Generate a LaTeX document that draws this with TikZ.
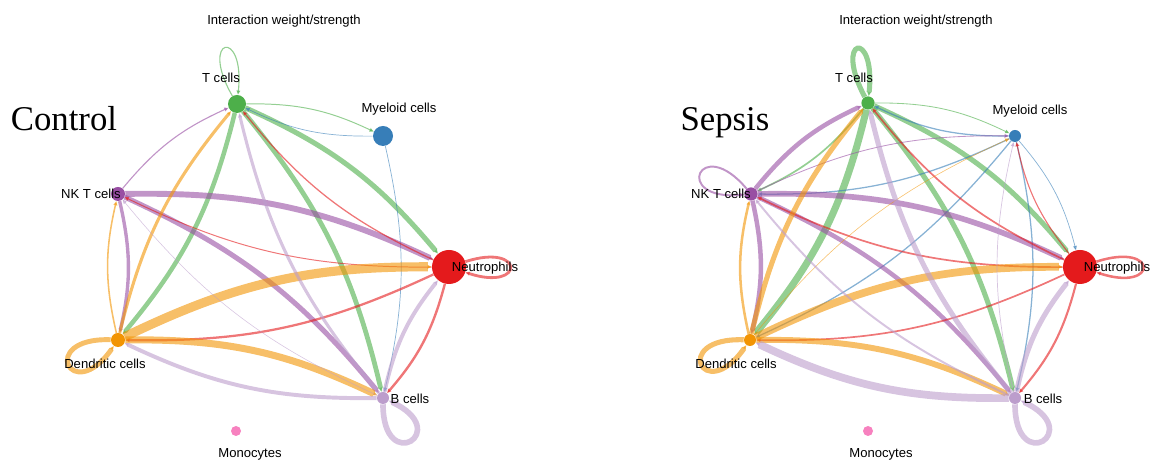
\documentclass[tikz,border=0pt]{standalone}
\usepackage{fontspec}
\setmainfont{Liberation Serif}
\setsansfont{Liberation Sans}
\usetikzlibrary{arrows.meta, backgrounds}

\definecolor{tgreen}{HTML}{4DAF4A}
\definecolor{myblue}{HTML}{377EB8}
\definecolor{nkpurple}{HTML}{984EA3}
\definecolor{nered}{HTML}{E41A1C}
\definecolor{dcorange}{HTML}{F29403}
\definecolor{blav}{HTML}{BC9DCC}
\definecolor{mopink}{HTML}{F781BF}

\begin{document}
\begin{tikzpicture}[
    x=0.025cm, y=0.025cm,
    cell/.style={circle, inner sep=0pt, fill=#1},
    lab/.style={font=\sffamily\fontsize{9.3}{11}\selectfont, inner sep=0pt, anchor=base},
    heading/.style={font=\sffamily\fontsize{9.3}{11}\selectfont, inner sep=0pt, anchor=base},
    panel/.style={font=\fontsize{24.7}{28}\selectfont, inner sep=0pt, anchor=base},
    link/.style={opacity=0.6, bend left=13, -{Triangle[length=3pt,width=2.6pt]}},
    selfloop/.style={opacity=0.6, -{Triangle[length=3pt,width=2.6pt]}}
]
\useasboundingbox (0,0) rectangle (1152,464);

% Control cells
\node[cell=tgreen, minimum size=0.45cm] (t1) at (237,360) {};
\node[cell=myblue, minimum size=0.5cm] (my1) at (383,328) {};
\node[cell=nkpurple, minimum size=0.35cm] (nk1) at (118,270) {};
\node[cell=nered, minimum size=0.85cm] (ne1) at (449,197) {};
\node[cell=dcorange, minimum size=0.35cm] (dc1) at (118,124) {};
\node[cell=blav, minimum size=0.3cm] (b1) at (383,66) {};
\node[cell=mopink, minimum size=0.25cm] (mo1) at (236,33) {};

% Sepsis cells
\node[cell=tgreen, minimum size=0.33cm] (t2) at (868,361) {};
\node[cell=myblue, minimum size=0.3cm] (my2) at (1015,328) {};
\node[cell=nkpurple, minimum size=0.33cm] (nk2) at (751,270) {};
\node[cell=nered, minimum size=0.85cm] (ne2) at (1080,197) {};
\node[cell=dcorange, minimum size=0.3cm] (dc2) at (750,124) {};
\node[cell=blav, minimum size=0.3cm] (b2) at (1015,66) {};
\node[cell=mopink, minimum size=0.25cm] (mo2) at (868,33) {};

\begin{scope}[on background layer]
% Control: T cells
\draw[link, tgreen, line width=0.7pt] (t1) to (my1);
\draw[link, tgreen, line width=3.6pt] (t1) to (ne1);
\draw[link, tgreen, line width=3.4pt] (t1) to (b1);
\draw[link, tgreen, line width=3.2pt] (t1) to (dc1);
\draw[selfloop, tgreen, line width=0.8pt] (t1) to[out=120, in=84, min distance=1.7cm] (t1);
% Control: Myeloid cells
\draw[link, myblue, line width=0.5pt] (my1) to (t1);
\draw[link, myblue, line width=0.5pt] (my1) to (b1);
% Control: NK T cells
\draw[link, nkpurple, line width=0.8pt] (nk1) to (t1);
\draw[link, nkpurple, line width=4.2pt] (nk1) to (ne1);
\draw[link, nkpurple, line width=3.6pt] (nk1) to (b1);
\draw[link, nkpurple, line width=2.4pt] (nk1) to (dc1);
% Control: Neutrophils
\draw[link, nered, line width=0.9pt] (ne1) to (t1);
\draw[link, nered, line width=0.7pt] (ne1) to (nk1);
\draw[link, nered, line width=1.6pt] (ne1) to (dc1);
\draw[link, nered, line width=1.7pt] (ne1) to (b1);
\draw[selfloop, nered, line width=2pt] (ne1) to[out=18, in=-18, min distance=1.57cm] (ne1);
% Control: Dendritic cells
\draw[link, dcorange, line width=2.2pt] (dc1) to (t1);
\draw[link, dcorange, line width=1.1pt] (dc1) to (nk1);
\draw[link, dcorange, line width=6.5pt] (dc1) to (ne1);
\draw[link, dcorange, line width=5pt] (dc1) to (b1);
\draw[selfloop, dcorange, line width=3.5pt] (dc1) to[out=178, in=235, min distance=1.85cm] (dc1);
% Control: B cells
\draw[link, blav, line width=2.2pt] (b1) to (t1);
\draw[link, blav, line width=0.4pt] (b1) to (nk1);
\draw[link, blav, line width=2.8pt] (b1) to (dc1);
\draw[link, blav, line width=2.8pt] (b1) to (ne1);
\draw[selfloop, blav, line width=4pt] (b1) to[out=-90, in=-25, min distance=1.8cm] (b1);

% Sepsis: T cells
\draw[link, tgreen, line width=0.6pt] (t2) to (my2);
\draw[link, tgreen, line width=1.2pt] (t2) to (nk2);
\draw[link, tgreen, line width=3.6pt] (t2) to (ne2);
\draw[link, tgreen, line width=3.6pt] (t2) to (b2);
\draw[link, tgreen, line width=5pt] (t2) to (dc2);
\draw[selfloop, tgreen, line width=3.6pt] (t2) to[out=118, in=84, min distance=1.7cm] (t2);
% Sepsis: Myeloid cells
\draw[link, myblue, line width=0.9pt] (my2) to (t2);
\draw[link, myblue, line width=0.9pt] (my2) to (nk2);
\draw[link, myblue, line width=0.9pt] (my2) to (dc2);
\draw[link, myblue, line width=0.9pt] (my2) to (b2);
\draw[link, myblue, line width=0.5pt] (my2) to (ne2);
% Sepsis: NK T cells
\draw[link, nkpurple, line width=3.2pt] (nk2) to (t2);
\draw[link, nkpurple, line width=0.6pt] (nk2) to (my2);
\draw[link, nkpurple, line width=4pt] (nk2) to (ne2);
\draw[link, nkpurple, line width=3.2pt] (nk2) to (b2);
\draw[link, nkpurple, line width=3.2pt] (nk2) to (dc2);
\draw[selfloop, nkpurple, line width=1.4pt] (nk2) to[out=130, in=185, min distance=1.82cm] (nk2);
% Sepsis: Neutrophils
\draw[link, nered, line width=0.8pt] (ne2) to (my2);
\draw[link, nered, line width=1.2pt] (ne2) to (t2);
\draw[link, nered, line width=1.2pt] (ne2) to (nk2);
\draw[link, nered, line width=1.2pt] (ne2) to (dc2);
\draw[link, nered, line width=1.5pt] (ne2) to (b2);
\draw[selfloop, nered, line width=1.8pt] (ne2) to[out=18, in=-18, min distance=1.64cm] (ne2);
% Sepsis: Dendritic cells
\draw[link, dcorange, line width=3.6pt] (dc2) to (t2);
\draw[link, dcorange, line width=1.8pt] (dc2) to (nk2);
\draw[link, dcorange, line width=5.5pt] (dc2) to (ne2);
\draw[link, dcorange, line width=4.2pt] (dc2) to (b2);
\draw[link, dcorange, line width=0.4pt] (dc2) to (my2);
\draw[selfloop, dcorange, line width=3.6pt] (dc2) to[out=178, in=235, min distance=1.85cm] (dc2);
% Sepsis: B cells
\draw[link, blav, line width=3.6pt] (b2) to (t2);
\draw[link, blav, line width=1.4pt] (b2) to (nk2);
\draw[link, blav, line width=5.5pt] (b2) to (dc2);
\draw[link, blav, line width=3.6pt] (b2) to (ne2);
\draw[link, blav, line width=0.5pt] (b2) to (my2);
\draw[selfloop, blav, line width=4pt] (b2) to[out=-90, in=-25, min distance=1.8cm] (b2);
\end{scope}

% Control labels
\node[heading] (head1) at (284,439) {Interaction weight/strength};
\node[panel] (ctrl) at (64,333) {Control};
\node[lab] (t1l) at (221,381) {T cells};
\node[lab] (my1l) at (399,351) {Myeloid cells};
\node[lab] (nk1l) at (91,265) {NK T cells};
\node[lab] (ne1l) at (485,192) {Neutrophils};
\node[lab] (dc1l) at (105,95) {Dendritic cells};
\node[lab] (b1l) at (410,60) {B cells};
\node[lab] (mo1l) at (250,6) {Monocytes};

% Sepsis labels
\node[heading] (head2) at (916,439) {Interaction weight/strength};
\node[panel] (seps) at (725,333) {Sepsis};
\node[lab] (t2l) at (854,381) {T cells};
\node[lab] (my2l) at (1030,349) {Myeloid cells};
\node[lab] (nk2l) at (721,265) {NK T cells};
\node[lab] (ne2l) at (1117,192) {Neutrophils};
\node[lab] (dc2l) at (736,95) {Dendritic cells};
\node[lab] (b2l) at (1043,60) {B cells};
\node[lab] (mo2l) at (881,6) {Monocytes};

\end{tikzpicture}
\end{document}
